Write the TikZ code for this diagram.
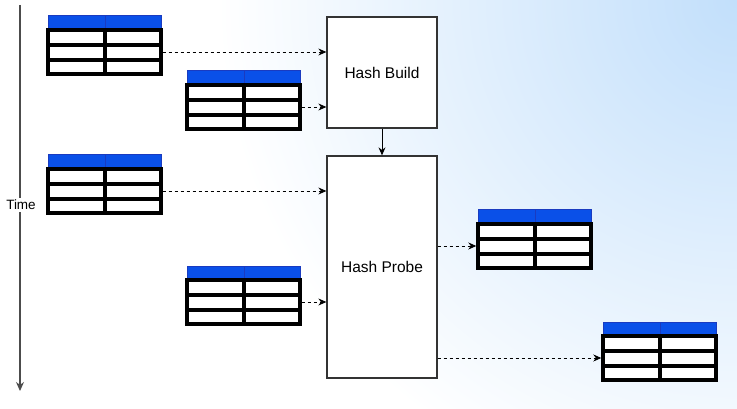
\documentclass[tikz,border=0pt]{standalone}
\usepackage{fontspec}
\setmainfont{Liberation Sans}
\usetikzlibrary{arrows.meta}

\definecolor{hdrblue}{HTML}{0A50E8}
\definecolor{hdrline}{HTML}{1A3BC0}
\definecolor{skyblue}{HTML}{C2DFFB}

\tikzset{
  opbox/.style={draw=black!80, line width=1.3pt, fill=white, minimum width=110pt, font=\fontsize{15.5}{18}\selectfont},
  tablebody/.style={draw=black, line width=3.4pt, fill=white, minimum width=113pt, minimum height=44pt, inner sep=0pt},
  tableline/.style={black, line width=3.4pt},
  flow/.style={dashed, dash pattern=on 3pt off 3pt, line width=0.8pt, -{Stealth[length=8pt,width=7pt]}},
  solidflow/.style={line width=0.9pt, -{Stealth[length=8pt,width=7pt]}}
}

% table: name, left x, top y
\newcommand{\dbtable}[3]{%
  \fill[hdrblue, draw=hdrline, line width=1pt] (#2,#3) rectangle ++(113,14);
  \draw[hdrline, line width=1pt] (#2+57,#3) -- ++(0,14);
  \node[tablebody] (#1) at (#2+56.5,#3+36) {};
  \draw[tableline] (#2,#3+29) -- ++(113,0);
  \draw[tableline] (#2,#3+44) -- ++(113,0);
  \draw[tableline] (#2+57,#3+14) -- ++(0,44);
}

\begin{document}
\begin{tikzpicture}[x=1pt, y=-1pt]
  \useasboundingbox (0,0) rectangle (737,409);
  \begin{scope}
    \clip (0,0) rectangle (737,409);
    \fill[white] (0,0) rectangle (737,409);
    \shade[inner color=skyblue, outer color=white] (737,0) circle (520);
  \end{scope}

  % Time axis
  \coordinate (ttop) at (20,5);
  \coordinate (tend) at (20,391);
  \draw[black!70, line width=1.2pt, -{Stealth[length=9pt,width=8pt]}] (ttop) -- (tend);
  \node[fill=white, inner sep=2pt, font=\fontsize{13.5}{16}\selectfont] (time) at (21,205) {Time};

  % Operators
  \node[opbox, minimum height=111pt] (build) at (382,72.5) {Hash Build};
  \node[opbox, minimum height=222pt] (probe) at (382,267) {Hash Probe};

  % Tables
  \dbtable{tin1}{48}{16}
  \dbtable{tin2}{187}{71}
  \dbtable{tin3}{48}{155}
  \dbtable{tin4}{187}{266}
  \dbtable{tout1}{478}{210}
  \dbtable{tout2}{603}{322}

  % Flows
  \draw[flow] (tin1.east) -- (tin1.east -| build.west);
  \draw[flow] (tin2.east) -- (tin2.east -| build.west);
  \draw[flow] (tin3.east) -- (tin3.east -| probe.west);
  \draw[flow] (tin4.east) -- (tin4.east -| probe.west);
  \draw[solidflow] (build.south) -- (probe.north);
  \draw[flow] (tout1.west -| probe.east) -- (tout1.west);
  \draw[flow] (tout2.west -| probe.east) -- (tout2.west);
\end{tikzpicture}
\end{document}
